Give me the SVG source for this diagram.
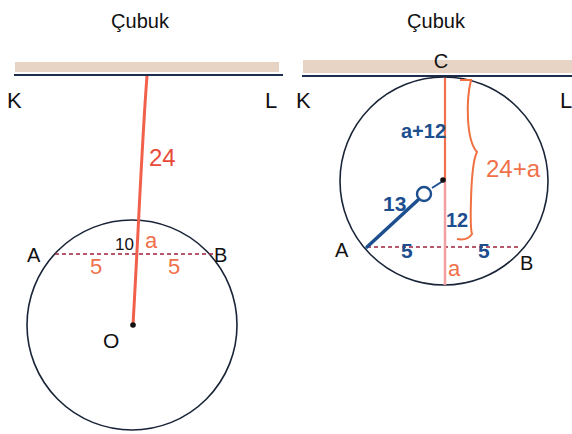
<svg xmlns="http://www.w3.org/2000/svg" width="572" height="434" viewBox="0 0 572 434">
<style>
.lbl{font-family:"Liberation Sans",Arial,sans-serif;fill:#111}
.hw{font-family:"Liberation Sans",Arial,sans-serif}
.org{fill:#f0704a}
.red{fill:#e84a3a}
.blu{fill:#1d4f8f;font-weight:bold}
.circ{fill:none;stroke:#1a2438;stroke-width:1.6}
.chord{stroke:#a0203c;stroke-width:1.6;stroke-dasharray:4 3}
.rod{fill:#e8d4c4}
.rodline{stroke:#1f2d4d;stroke-width:2.2}
</style>
<rect width="572" height="434" fill="#fff"/>
<g id="left">
  <text class="lbl" x="140" y="28" text-anchor="middle" font-size="20">Çubuk</text>
  <rect class="rod" x="15" y="62" width="264" height="10"/>
  <line class="rodline" x1="14" y1="75" x2="283" y2="75"/>
  <text class="lbl" x="7" y="108" font-size="22">K</text>
  <text class="lbl" x="265" y="108" font-size="22">L</text>
  <circle id="circleL" class="circ" cx="132" cy="325" r="105"/>
</g>
<g id="right">
  <text class="lbl" x="436" y="28" text-anchor="middle" font-size="20">Çubuk</text>
  <rect class="rod" x="303" y="60" width="269" height="13"/>
  <line class="rodline" x1="302" y1="76" x2="572" y2="76"/>
  <text class="lbl" x="441" y="68" text-anchor="middle" font-size="20">C</text>
  <text class="lbl" x="296" y="108" font-size="22">K</text>
  <text class="lbl" x="560" y="108" font-size="22">L</text>
  <circle id="circleR" class="circ" cx="444" cy="181" r="104"/>
</g>
<g id="connectors">
  <line class="chord" x1="55" y1="254" x2="213" y2="254"/>
  <path d="M147,76 C142,140 139,220 133,325" fill="none" stroke="#f0604a" stroke-width="3"/>
  <circle cx="133" cy="325" r="2.8" fill="#111"/>
  <line class="chord" x1="367" y1="247" x2="521" y2="247"/>
  <line x1="445" y1="78" x2="445" y2="180" stroke="#f07050" stroke-width="2.2"/>
  <line x1="445" y1="180" x2="445" y2="285" stroke="#f2a0a0" stroke-width="2.5"/>
  <line x1="367" y1="247" x2="418" y2="200" stroke="#1d4f8f" stroke-width="3.5" stroke-linecap="round"/>
  <line x1="432" y1="188" x2="443" y2="181" stroke="#1d4f8f" stroke-width="2"/>
  <circle cx="443" cy="180" r="2.8" fill="#111"/>
  <path d="M460,80 L471,80 C466,100 466,140 477,152 C470,165 470,228 472,234 C468,240 462,240 457,239" fill="none" stroke="#f07040" stroke-width="2"/>
</g>
<g id="labelsL">
  <text class="hw red" x="149" y="166" font-size="24">24</text>
  <text class="lbl" x="27" y="262" font-size="20">A</text>
  <text class="lbl" x="214" y="262" font-size="20">B</text>
  <text class="lbl" x="115" y="250" font-size="17">10</text>
  <text class="hw org" x="145" y="248" font-size="22">a</text>
  <text class="hw org" x="90" y="274" font-size="22">5</text>
  <text class="hw org" x="168" y="274" font-size="22">5</text>
  <text class="lbl" x="103" y="348" font-size="21">O</text>
</g>
<g id="labelsR">
  <text class="lbl" x="335" y="257" font-size="20">A</text>
  <text class="lbl" x="520" y="270" font-size="20">B</text>
  <text class="hw blu" x="401" y="138" font-size="20">a+12</text>
  <text class="hw blu" x="383" y="211" font-size="21">13</text>
  <circle cx="424" cy="194" r="7" fill="none" stroke="#1d4f8f" stroke-width="2.4"/>
  <text class="hw blu" x="446" y="227" font-size="20">12</text>
  <text class="hw blu" x="401" y="258" font-size="21">5</text>
  <text class="hw blu" x="478" y="258" font-size="21">5</text>
  <text class="hw org" x="448" y="276" font-size="22">a</text>
  <text class="hw org" x="486" y="177" font-size="24">24+a</text>
</g>
</svg>
